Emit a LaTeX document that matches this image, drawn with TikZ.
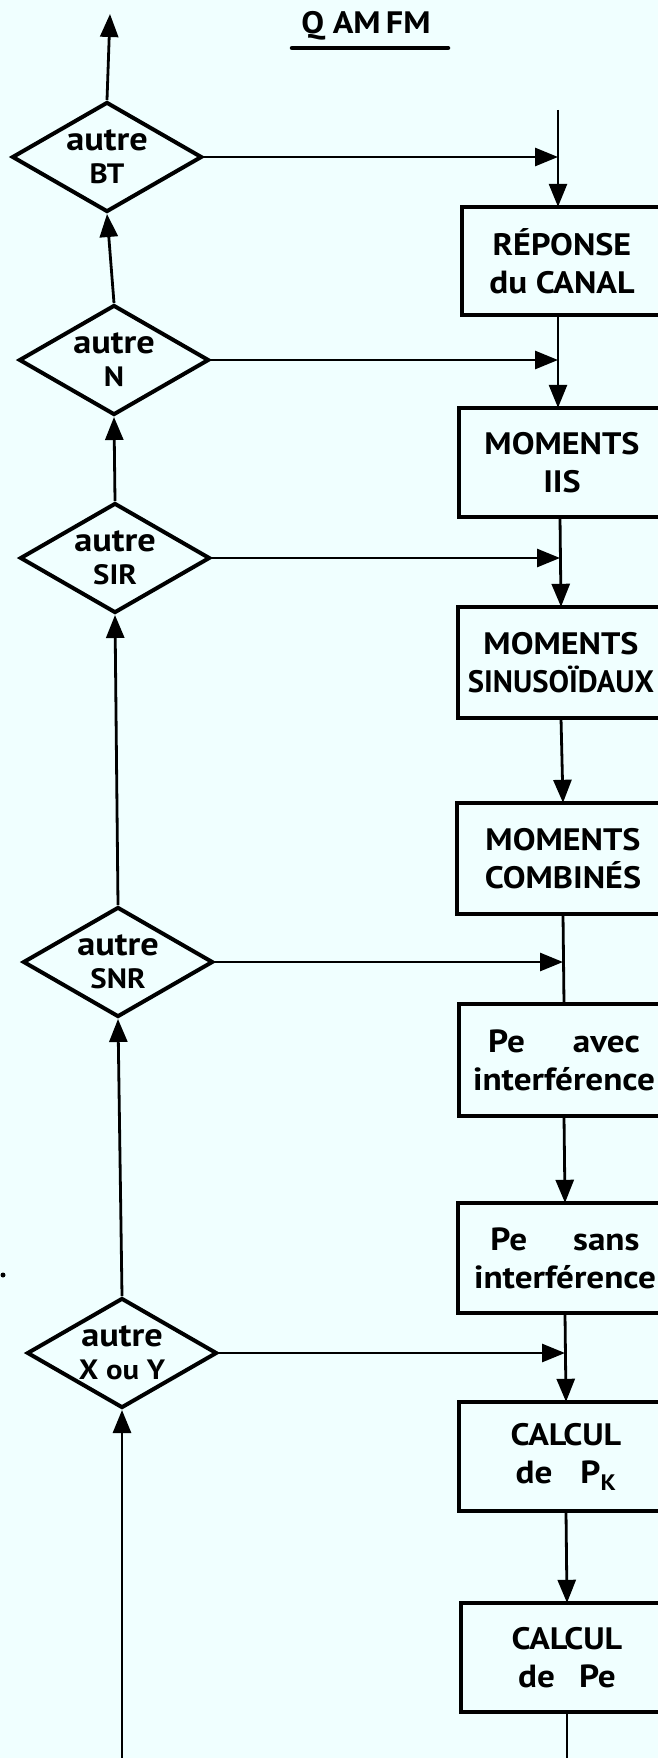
\documentclass[tikz,border=0pt]{standalone}
\usepackage{fontspec}
\setmainfont{PT Sans}[FakeStretch=1.1]
\usetikzlibrary{shapes.geometric,arrows.meta,calc}
\definecolor{bgcol}{RGB}{240,255,255}
\newcommand{\lc}[1]{{\fontsize{32}{38}\selectfont #1}}
\newcommand{\dlc}[1]{{\fontsize{33}{33}\selectfont #1}}
\begin{document}
\begin{tikzpicture}[x=1pt,y=-1pt,
  conn/.style={line width=2.8pt},
  arr/.style={conn,-{Triangle[length=23pt,width=18pt]}},
  frame/.style={line width=4.2pt},
  stepbox/.style={rectangle,inner sep=0pt,minimum height=110pt,align=center,
    font=\bfseries\fontsize{31}{38}\selectfont},
  dia/.style={diamond,draw,line width=4pt,inner sep=0pt,aspect=1.7,
    minimum width=190pt,minimum height=110pt,align=center,
    font=\bfseries\fontsize{28}{33}\selectfont},
  ]
\useasboundingbox (0,0) rectangle (658,1758);
\clip (0,0) rectangle (658,1758);
\fill[bgcol] (0,0) rectangle (658,1758);

% title
\node[font=\bfseries\fontsize{31}{36}\selectfont] (title) at (366,26) {Q AM\,FM};
\draw[line width=4.5pt,line cap=round] (292,48) -- (448,48);

% stray mark
\fill (3,1275) circle (2.5pt);

% boxes
\node[stepbox,minimum width=200pt,minimum height=108pt] (R1) at (562,261) {RÉPONSE\\\lc{du} CANAL};
\node[stepbox,minimum width=206pt,minimum height=109pt] (R2) at (562,462.5) {MOMENTS\\IIS};
\node[stepbox,minimum width=206pt,minimum height=111pt] (R3) at (561,662.5) {MOMENTS\\\scalebox{0.9}[1]{SINUSOÏDAUX}};
\node[stepbox,minimum width=212pt,minimum height=111pt] (R4) at (563,858.5) {MOMENTS\\COMBINÉS};
\node[stepbox,minimum width=210pt,minimum height=112pt] (R5) at (564,1060) {\lc{Pe\hspace{48pt}avec}\\\lc{interférence}};
\node[stepbox,minimum width=214pt,minimum height=110pt] (R6) at (565,1258) {\lc{Pe\hspace{46pt}sans}\\\lc{interférence}};
\node[stepbox,minimum width=214pt,minimum height=109pt] (R7) at (566,1456.5) {CALCUL\\\lc{de\hspace{28pt}P\textsubscript{K}}};
\node[stepbox,minimum width=212pt,minimum height=109pt] (R8) at (567,1657.5) {CALCUL\\\lc{de\hspace{24pt}Pe}};
\foreach \n in {R1,R2,R3,R4,R5,R6,R7,R8}
  \draw[frame] (\n.north west) rectangle ([xshift=60pt]\n.south east);

% diamonds
\node[dia] (BT) at (107,157) {\dlc{autre}\\BT};
\node[dia] (N) at (114,360) {\dlc{autre}\\N};
\node[dia] (SIR) at (115,558) {\dlc{autre}\\SIR};
\node[dia] (SNR) at (118,962) {\dlc{autre}\\SNR};
\node[dia] (XY) at (122,1353) {\dlc{autre}\\X ou Y};

% free ends
\coordinate (top) at (110,14);
\coordinate (bot) at (122,1762);
\coordinate (s0) at (558,110);
\coordinate (s1) at (560,520);
\coordinate (sb) at (567,1762);

% left spine
\draw[arr] (BT.north) -- (top);
\draw[arr] (N.north) -- (BT.south);
\draw[arr] (SIR.north) -- (N.south);
\draw[arr] (SNR.north) -- (SIR.south);
\draw[arr] (XY.north) -- (SNR.south);
\draw[arr] (bot) -- (XY.south);

% right spine
\draw[arr] (s0) -- (R1.north -| s0);
\draw[arr] (R1.south -| s0) -- (R2.north -| s0);
\draw[arr] (R2.south -| s1) -- (R3.north);
\draw[arr] (R3.south) -- (R4.north);
\draw[conn] (R4.south) -- (R5.north);
\draw[arr] (R5.south) -- (R6.north);
\draw[arr] (R6.south) -- (R7.north);
\draw[arr] (R7.south) -- (R8.north);
\draw[conn] (R8.south) -- (sb);

% horizontal branches
\draw[arr] (BT.east) -- (BT.east -| s0);
\draw[arr] (N.east) -- (N.east -| s0);
\draw[arr] (SIR.east) -- (SIR.east -| s1);
\draw[arr] (SNR.east) -- (SNR.east -| R4.south);
\draw[arr] (XY.east) -- (XY.east -| R6.south);
\end{tikzpicture}
\end{document}
